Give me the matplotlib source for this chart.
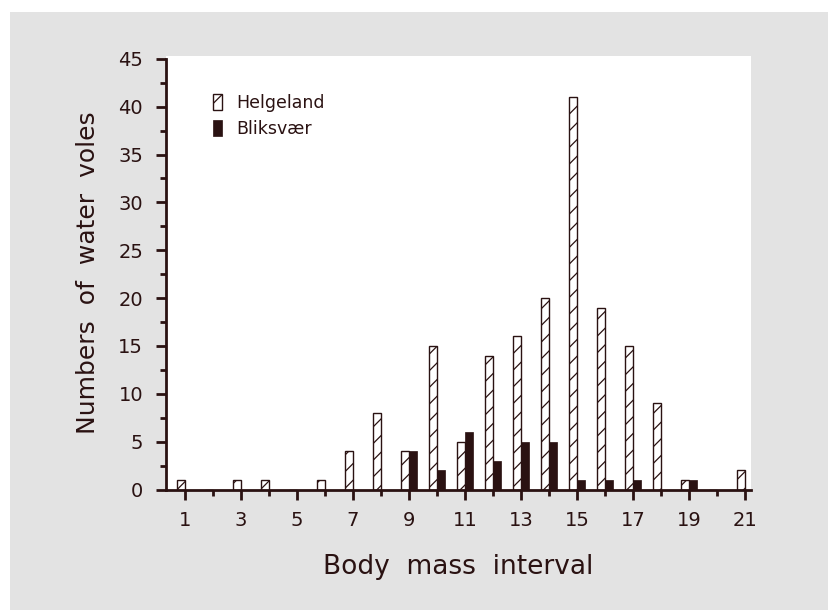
import matplotlib.pyplot as plt
from matplotlib.patches import Rectangle

# water vole counts per body mass interval
intervals = list(range(1, 22))
helgeland = [1, 0, 1, 1, 0, 1, 4, 8, 4, 15, 5, 14, 16, 20, 41, 19, 15, 9, 1, 0, 2]
bliksvaer = [0, 0, 0, 0, 0, 0, 0, 0, 4, 2, 6, 3, 5, 5, 1, 1, 1, 0, 1, 0, 0]
series_names = ["Helgeland", "Bliksvær"]

dark = "#2a1212"
plt.rcParams['font.family'] = ['DejaVu Sans']
plt.rcParams['hatch.linewidth'] = 0.9

fig = plt.figure(figsize=(8.29, 6.10), dpi=100)
fig.patch.set_facecolor("white")
fig.patches.append(Rectangle((10 / 829, 0), 1, 1 - 12 / 610, transform=fig.transFigure,
                             facecolor="#e3e3e3", edgecolor="none", zorder=-5))

ax = fig.add_axes([166 / 829, 120.5 / 610, 585 / 829, 433.5 / 610])
ax.set_zorder(2)
ax.set_facecolor("white")

w = 0.285
ax.bar(intervals, helgeland, width=-w, align='edge', facecolor="white",
       edgecolor=dark, linewidth=1.0, hatch='//', label=series_names[0])
ax.bar(intervals, bliksvaer, width=w, align='edge', facecolor=dark,
       edgecolor=dark, linewidth=0.5, label=series_names[1])

ax.set_xlim(0.33, 21.2)
ax.set_ylim(0, 45.3)
ax.spines['top'].set_visible(False)
ax.spines['right'].set_visible(False)
for s in ('left', 'bottom'):
    ax.spines[s].set_color(dark)
    ax.spines[s].set_linewidth(2)
ax.spines['left'].set_bounds(0, 45)

ax.set_xticks(range(1, 22, 2))
ax.set_xticks(range(2, 21, 2), minor=True)
ax.set_yticks(range(0, 46, 5))
ax.set_yticks([2.5 + 5 * i for i in range(9)], minor=True)
ax.tick_params(which='major', direction='out', length=7.5, width=2, color=dark,
               labelsize=14, labelcolor=dark)
ax.tick_params(which='minor', direction='out', length=4.5, width=2, color=dark)
ax.tick_params(axis='y', which='major', pad=9)
ax.tick_params(axis='x', which='major', pad=8)

ax.set_xlabel("Body  mass  interval", fontsize=19, color=dark, labelpad=17)
ax.set_ylabel("Numbers  of  water  voles", fontsize=18, color=dark, labelpad=13)

ax.legend(loc='upper left', bbox_to_anchor=(0.08, 0.912), frameon=False,
          fontsize=12.5, handlelength=0.55, handleheight=1.0,
          handletextpad=0.8, borderpad=0, borderaxespad=0, labelcolor=dark,
          labelspacing=0.45)

fig.savefig("out.png", dpi=100)
